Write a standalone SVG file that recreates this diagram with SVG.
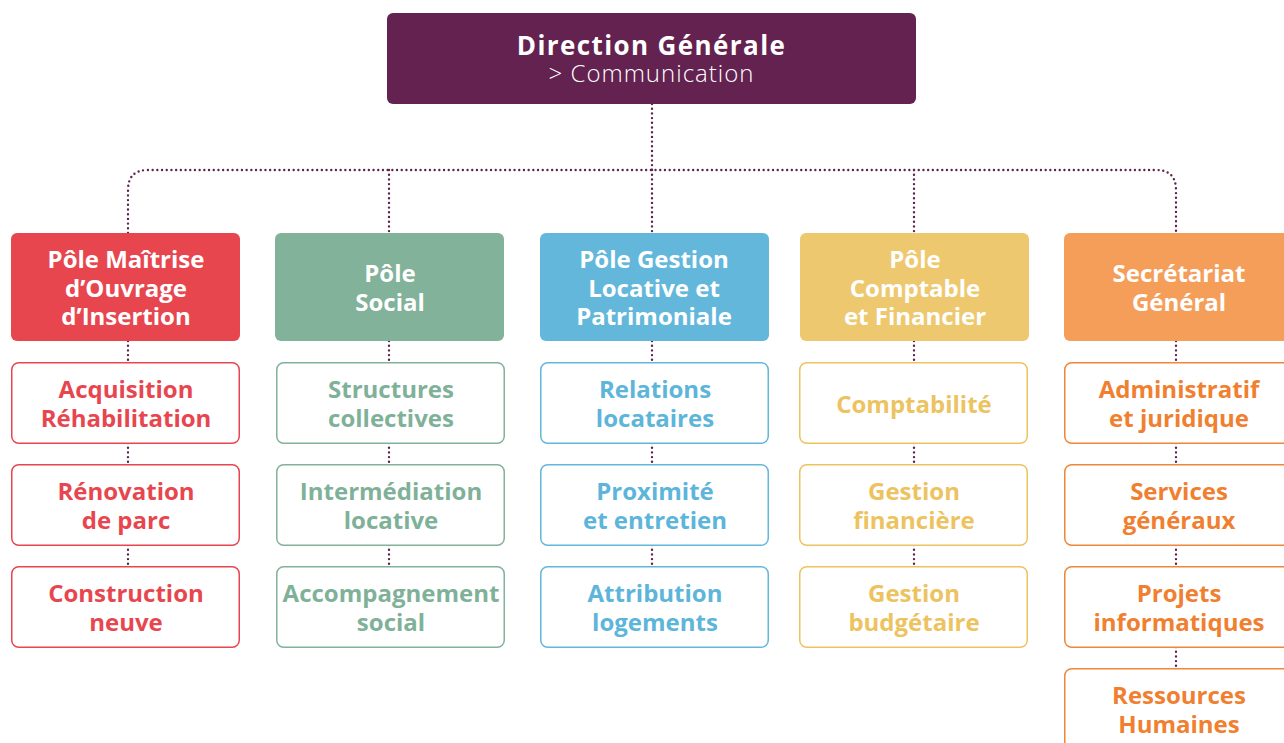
<svg xmlns="http://www.w3.org/2000/svg" width="1284" height="743" viewBox="0 0 1284 743">
  <style>
    text { font-family: "Open Sans", "Noto Sans", "Liberation Sans", sans-serif; font-weight: 700; text-anchor: middle; }
    .lbl { font-size: 24px; }
    .white { fill: #ffffff; }
    .dots { fill: none; stroke: #5e2251; stroke-width: 2.4; stroke-linecap: round; stroke-dasharray: 0 4.7; }
    .sub { fill: #ffffff; stroke-width: 1.5; }
    .red-f { fill: #e8464f; } .red-s { stroke: #e8464f; } .red-t { fill: #e8464f; }
    .grn-f { fill: #82b29a; } .grn-s { stroke: #82b29a; } .grn-t { fill: #7fb199; }
    .blu-f { fill: #63b7db; } .blu-s { stroke: #63b7db; } .blu-t { fill: #5db5da; }
    .yel-f { fill: #eec86f; } .yel-s { stroke: #ecc35f; } .yel-t { fill: #ecc35f; }
    .org-f { fill: #f49e5a; } .org-s { stroke: #f08638; } .org-t { fill: #f08030; }
  </style>

  <!-- dotted links -->
  <g id="connectors">
    <path class="dots" d="M652 104 V170"/>
    <path class="dots" d="M128 233 V190 Q128 170 148 170 H1156 Q1176 170 1176 190 V233"/>
    <path class="dots" d="M389 170 V233"/>
    <path class="dots" d="M652 170 V233"/>
    <path class="dots" d="M914 170 V233"/>
    <!-- column links -->
    <path class="dots" d="M128 341 V362 M128 443 V464 M128 545 V566"/>
    <path class="dots" d="M389 341 V362 M389 443 V464 M389 545 V566"/>
    <path class="dots" d="M652 341 V362 M652 443 V464 M652 545 V566"/>
    <path class="dots" d="M914 341 V362 M914 443 V464 M914 545 V566"/>
    <path class="dots" d="M1176 341 V362 M1176 443 V464 M1176 545 V566 M1176 647 V668"/>
  </g>

  <!-- top -->
  <g id="direction-generale">
    <rect x="387" y="13" width="529" height="91" rx="6" fill="#63224f"/>
    <text class="white"><tspan x="651.5" y="55" font-size="26" letter-spacing="1.4">Direction Générale</tspan><tspan x="651.5" y="82" font-size="24" letter-spacing="1" style="font-weight:300">&gt; Communication</tspan></text>
  </g>

  <!-- column 1 -->
  <g id="pole-maitrise">
    <rect x="11" y="233" width="229" height="108" rx="6" class="red-f"/>
    <text class="lbl white"><tspan x="126" y="268">Pôle Maîtrise</tspan><tspan x="126" y="297">d’Ouvrage</tspan><tspan x="126" y="325">d’Insertion</tspan></text>
  </g>
  <g id="acquisition">
    <rect x="11.75" y="362.75" width="227.5" height="80.5" rx="7" class="sub red-s"/>
    <text class="lbl red-t"><tspan x="126" y="398">Acquisition</tspan><tspan x="126" y="427">Réhabilitation</tspan></text>
  </g>
  <g id="renovation">
    <rect x="11.75" y="464.75" width="227.5" height="80.5" rx="7" class="sub red-s"/>
    <text class="lbl red-t"><tspan x="126" y="500">Rénovation</tspan><tspan x="126" y="529">de parc</tspan></text>
  </g>
  <g id="construction">
    <rect x="11.75" y="566.75" width="227.5" height="80.5" rx="7" class="sub red-s"/>
    <text class="lbl red-t"><tspan x="126" y="602">Construction</tspan><tspan x="126" y="631">neuve</tspan></text>
  </g>

  <!-- column 2 -->
  <g id="pole-social">
    <rect x="275" y="233" width="229" height="108" rx="6" class="grn-f"/>
    <text class="lbl white"><tspan x="390" y="282">Pôle</tspan><tspan x="390" y="311">Social</tspan></text>
  </g>
  <g id="structures">
    <rect x="276.75" y="362.75" width="227.5" height="80.5" rx="7" class="sub grn-s"/>
    <text class="lbl grn-t"><tspan x="391" y="398">Structures</tspan><tspan x="391" y="427">collectives</tspan></text>
  </g>
  <g id="intermediation">
    <rect x="276.75" y="464.75" width="227.5" height="80.5" rx="7" class="sub grn-s"/>
    <text class="lbl grn-t"><tspan x="391" y="500">Intermédiation</tspan><tspan x="391" y="529">locative</tspan></text>
  </g>
  <g id="accompagnement">
    <rect x="276.75" y="566.75" width="227.5" height="80.5" rx="7" class="sub grn-s"/>
    <text class="lbl grn-t"><tspan x="391" y="602">Accompagnement</tspan><tspan x="391" y="631">social</tspan></text>
  </g>

  <!-- column 3 -->
  <g id="pole-gestion-locative">
    <rect x="540" y="233" width="229" height="108" rx="6" class="blu-f"/>
    <text class="lbl white"><tspan x="654" y="268">Pôle Gestion</tspan><tspan x="654" y="297">Locative et</tspan><tspan x="654" y="325">Patrimoniale</tspan></text>
  </g>
  <g id="relations">
    <rect x="540.75" y="362.75" width="227.5" height="80.5" rx="7" class="sub blu-s"/>
    <text class="lbl blu-t"><tspan x="655" y="398">Relations</tspan><tspan x="655" y="427">locataires</tspan></text>
  </g>
  <g id="proximite">
    <rect x="540.75" y="464.75" width="227.5" height="80.5" rx="7" class="sub blu-s"/>
    <text class="lbl blu-t"><tspan x="655" y="500">Proximité</tspan><tspan x="655" y="529">et entretien</tspan></text>
  </g>
  <g id="attribution">
    <rect x="540.75" y="566.75" width="227.5" height="80.5" rx="7" class="sub blu-s"/>
    <text class="lbl blu-t"><tspan x="655" y="602">Attribution</tspan><tspan x="655" y="631">logements</tspan></text>
  </g>

  <!-- column 4 -->
  <g id="pole-comptable">
    <rect x="800" y="233" width="229" height="108" rx="6" class="yel-f"/>
    <text class="lbl white"><tspan x="915" y="268">Pôle</tspan><tspan x="915" y="297">Comptable</tspan><tspan x="915" y="325">et Financier</tspan></text>
  </g>
  <g id="comptabilite">
    <rect x="799.75" y="362.75" width="227.5" height="80.5" rx="7" class="sub yel-s"/>
    <text class="lbl yel-t" x="914" y="413">Comptabilité</text>
  </g>
  <g id="gestion-financiere">
    <rect x="799.75" y="464.75" width="227.5" height="80.5" rx="7" class="sub yel-s"/>
    <text class="lbl yel-t"><tspan x="914" y="500">Gestion</tspan><tspan x="914" y="529">financière</tspan></text>
  </g>
  <g id="gestion-budgetaire">
    <rect x="799.75" y="566.75" width="227.5" height="80.5" rx="7" class="sub yel-s"/>
    <text class="lbl yel-t"><tspan x="914" y="602">Gestion</tspan><tspan x="914" y="631">budgétaire</tspan></text>
  </g>

  <!-- column 5 -->
  <g id="secretariat-general">
    <rect x="1064" y="233" width="230" height="108" rx="6" class="org-f"/>
    <text class="lbl white"><tspan x="1179" y="282">Secrétariat</tspan><tspan x="1179" y="311">Général</tspan></text>
  </g>
  <g id="administratif">
    <rect x="1064.75" y="362.75" width="228" height="80.5" rx="7" class="sub org-s"/>
    <text class="lbl org-t"><tspan x="1179" y="398">Administratif</tspan><tspan x="1179" y="427">et juridique</tspan></text>
  </g>
  <g id="services-generaux">
    <rect x="1064.75" y="464.75" width="228" height="80.5" rx="7" class="sub org-s"/>
    <text class="lbl org-t"><tspan x="1179" y="500">Services</tspan><tspan x="1179" y="529">généraux</tspan></text>
  </g>
  <g id="projets-informatiques">
    <rect x="1064.75" y="566.75" width="228" height="80.5" rx="7" class="sub org-s"/>
    <text class="lbl org-t"><tspan x="1179" y="602">Projets</tspan><tspan x="1179" y="631">informatiques</tspan></text>
  </g>
  <g id="ressources-humaines">
    <rect x="1064.75" y="668.75" width="228" height="80.5" rx="7" class="sub org-s"/>
    <text class="lbl org-t"><tspan x="1179" y="704">Ressources</tspan><tspan x="1179" y="733">Humaines</tspan></text>
  </g>
</svg>
